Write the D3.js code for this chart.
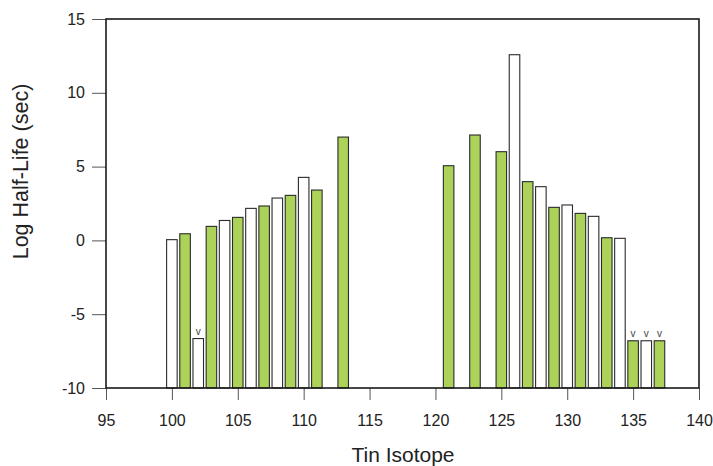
<!DOCTYPE html>
<html>
<head>
<meta charset="utf-8">
<script src="https://cdn.jsdelivr.net/npm/d3@7"></script>
<style>
  html, body { margin: 0; padding: 0; background: #fff; }
  svg { display: block; font-family: "Liberation Sans", Arial, sans-serif; }
</style>
</head>
<body>
<svg id="chart" width="713" height="466"></svg>
<script>
// ---- Data ----
const isotopes     = [100, 101, 102, 103, 104, 105, 106, 107, 108, 109, 110, 111, 113,
                      121, 123, 125, 126, 127, 128, 129, 130, 131, 132, 133, 134, 135, 136, 137];
const logHalfLife  = [0.05, 0.45, -6.65, 0.95, 1.35, 1.56, 2.17, 2.33, 2.87, 3.05, 4.27, 3.41, 7.0,
                      5.06, 7.14, 6.01, 12.58, 3.98, 3.64, 2.24, 2.40, 1.83, 1.63, 0.18, 0.14, -6.8, -6.8, -6.8];
const parity       = ["even", "odd", "even", "odd", "even", "odd", "even", "odd", "even", "odd", "even", "odd", "odd",
                      "odd", "odd", "odd", "even", "odd", "even", "odd", "even", "odd", "even", "odd", "even", "odd", "even", "odd"];
const upperLimits  = [102, 135, 136, 137];   // bars marked with "v"
const xTicks       = [95, 100, 105, 110, 115, 120, 125, 130, 135, 140];
const yTicks       = [-10, -5, 0, 5, 10, 15];
const xTitle       = "Tin Isotope";
const yTitle       = "Log Half-Life (sec)";

const colors = { odd: "#acd25a", even: "#ffffff" };

// ---- Layout ----
const svg = d3.select("#chart");
const mLeft = 106, mRight = 699, mTop = 19, mBottom = 388;

const x = d3.scaleLinear().domain([95, 140]).range([mLeft, mRight]);
const y = d3.scaleLinear().domain([-10, 15]).range([mBottom, mTop]);
const barW = x(95.8) - x(95);

const data = isotopes.map((iso, i) => ({ iso, v: logHalfLife[i], p: parity[i] }));

// Bars
svg.append("g").selectAll("rect").data(data).join("rect")
  .attr("x", d => x(d.iso) - barW / 2)
  .attr("width", barW)
  .attr("y", d => y(d.v))
  .attr("height", d => y(-10) - y(d.v))
  .attr("fill", d => colors[d.p])
  .attr("stroke", "#2a2a2a")
  .attr("stroke-width", 1.1);

// Upper-limit markers
svg.append("g").selectAll("text").data(data.filter(d => upperLimits.includes(d.iso))).join("text")
  .attr("x", d => x(d.iso))
  .attr("y", d => y(d.v) - 4)
  .attr("text-anchor", "middle")
  .attr("font-size", 10)
  .attr("fill", "#444")
  .text("v");

// Axes
const fmt = d => String(d);
const yAxis = svg.append("g").attr("transform", `translate(${mLeft},0)`)
  .call(d3.axisLeft(y).tickValues(yTicks).tickSize(14).tickPadding(7).tickFormat(fmt));
const xAxis = svg.append("g").attr("transform", `translate(0,${mBottom})`)
  .call(d3.axisBottom(x).tickValues(xTicks).tickSize(12).tickPadding(15).tickFormat(fmt));

[yAxis, xAxis].forEach(g => {
  g.select(".domain").remove();
  g.selectAll(".tick line").attr("stroke", "#555").attr("stroke-width", 1);
  g.selectAll(".tick text").attr("font-size", 16).attr("fill", "#222")
    .attr("font-family", "'Liberation Sans', Arial, sans-serif");
});

// Frame
svg.append("rect")
  .attr("x", mLeft).attr("y", mTop)
  .attr("width", mRight - mLeft).attr("height", mBottom - mTop)
  .attr("fill", "none").attr("stroke", "#1a1a1a").attr("stroke-width", 1.6);

// Titles
svg.append("text")
  .attr("x", 403).attr("y", 462)
  .attr("text-anchor", "middle").attr("font-size", 21).attr("fill", "#222")
  .text(xTitle);

svg.append("text")
  .attr("transform", `translate(28,171.5) rotate(-90)`)
  .attr("text-anchor", "middle").attr("font-size", 21.5).attr("fill", "#222")
  .text(yTitle);
</script>
</body>
</html>
